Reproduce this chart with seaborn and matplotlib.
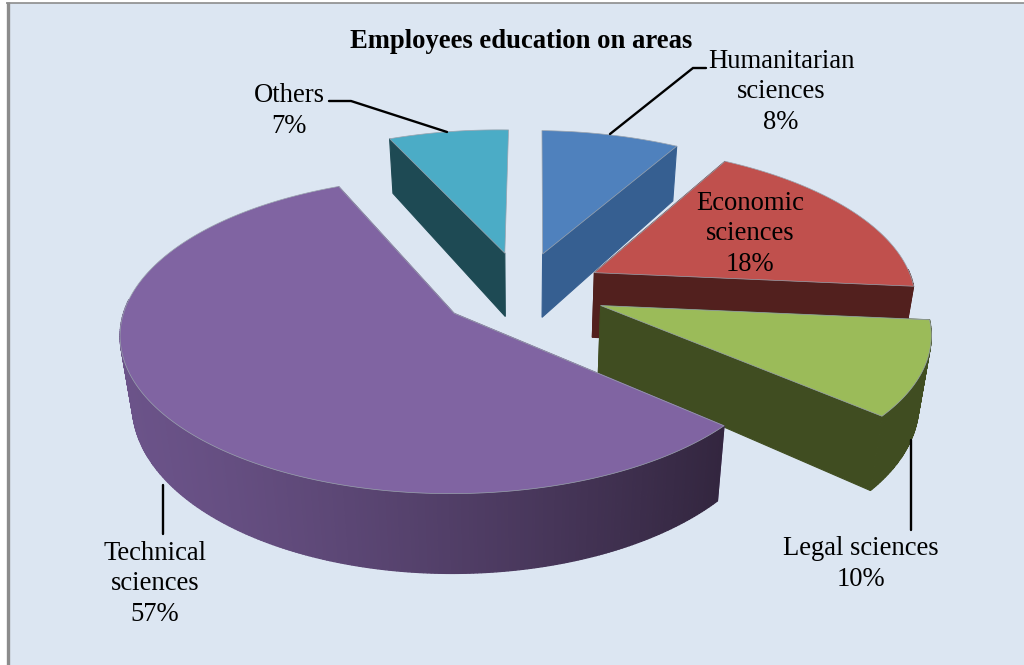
import numpy as np
import matplotlib
matplotlib.use("Agg")
import matplotlib.pyplot as plt
from matplotlib.patches import Rectangle
import seaborn as sns

# Shares of employees by field of education, clockwise from twelve o'clock
categories = ["Humanitarian sciences", "Economic sciences", "Legal sciences",
              "Technical sciences", "Others"]
shares = [8, 18, 10, 57, 7]
chart_title = "Employees education on areas"

top_hex = ["#4F81BD", "#C0504D", "#9BBB59", "#8064A2", "#4BACC6"]
wall_hex = ["#365F91", "#52201E", "#404D21", "#6B5389", "#1E4A54"]
wall_dark_end = "#33263F"

sns.set_theme(style="white")
plt.rcParams["font.family"] = ["Liberation Serif", "DejaVu Serif"]
top_colors = sns.color_palette(top_hex)
wall_colors = sns.color_palette(wall_hex)

BACKGROUND = "#DCE6F2"
FRAME = "#8C8C8C"

# Perspective camera for the exploded disc (pixel-based axes)
CX, CY = 522.0, 290.0
SCALE_X, SCALE_Y, DEPTH = 322.0, 149.0, 68.0
PERSP_V, PERSP_Z = 0.1345, 0.03
DEPTH_TAPER, TILT, SKEW = 0.10, 4.5, 2.0
EXPLODE = 0.26


def project(u, v, z=0.0):
    s = 1.0 / (1.0 + PERSP_V * v + PERSP_Z * z)
    drop = DEPTH * z * (1.0 - DEPTH_TAPER * v)
    return CX + (SCALE_X * u + SKEW * v) * s, CY + (-SCALE_Y * v + TILT * u + drop) * s


fig = plt.figure(figsize=(10.24, 6.65), dpi=100, facecolor="white")
ax = fig.add_axes([0, 0, 1, 1])
ax.set_xlim(0, 1024)
ax.set_ylim(665, 0)
ax.axis("off")

ax.add_patch(Rectangle((7, 3), 1017, 662, facecolor=BACKGROUND, edgecolor="none", zorder=0))
ax.plot([7.5, 7.5], [2, 665], color=FRAME, lw=2.4, zorder=1, solid_capstyle="butt")
ax.plot([6, 1024], [3, 3], color=FRAME, lw=1.2, zorder=1, solid_capstyle="butt")

edges = np.cumsum([0] + shares) / sum(shares) * 2 * np.pi
slices = []
for i in range(len(shares)):
    a0, a1 = edges[i], edges[i + 1]
    mid = (a0 + a1) / 2
    apex = (EXPLODE * np.sin(mid), EXPLODE * np.cos(mid))
    angles = np.linspace(a0, a1, max(8, int(shares[i] * 6)))
    us = apex[0] + np.sin(angles)
    vs = apex[1] + np.cos(angles)
    slices.append((i, apex, angles, us, vs))

# Paint from the far side of the disc to the near side
order = [4, 0, 1, 2, 3]
z = 2
dark = np.array(matplotlib.colors.to_rgb(wall_dark_end))
for i, apex, angles, us, vs in (slices[k] for k in order):
    wall = wall_colors[i]
    ax0, ay0 = project(apex[0], apex[1])
    bx0, by0 = project(apex[0], apex[1], 1)
    # straight cut faces running from the apex to the rim corners;
    # a cut lying along twelve o'clock is seen edge-on and is left out
    for end in (0, -1):
        if abs(np.sin(angles[end])) < 1e-6:
            continue
        tx, ty = project(us[end], vs[end])
        bx, by = project(us[end], vs[end], 1)
        ax.fill([ax0, tx, bx, bx0], [ay0, ty, by, by0], color=wall, lw=0.8, zorder=z)
    # rim wall on the side facing the viewer, shaded along the large slice
    tx, ty = project(us, vs)
    bx, by = project(us, vs, 1)
    x_left, x_right = tx.min(), tx.max()
    for j in range(len(us) - 1):
        if np.cos(angles[j]) > 0.05 and np.cos(angles[j + 1]) > 0.05:
            continue
        colour = wall
        if categories[i].startswith("Technical"):
            t = ((tx[j] - x_left) / (x_right - x_left)) ** 1.3
            colour = tuple((1 - t) * np.array(wall) + t * dark)
        ax.fill([tx[j], tx[j + 1], bx[j + 1], bx[j]], [ty[j], ty[j + 1], by[j + 1], by[j]],
                color=colour, lw=0.9, zorder=z)
    # top face
    ax.fill(np.r_[ax0, tx], np.r_[ay0, ty], facecolor=top_colors[i],
            edgecolor="#9AA3AE", lw=0.5, zorder=z + 0.5, joinstyle="round")
    z += 1

TEXT_SIZE = 19.2
label_style = dict(ha="center", va="center", fontsize=TEXT_SIZE, color="black",
                   linespacing=1.28, zorder=20)


def pct(name):
    return f"{shares[categories.index(name)]}%"


ax.text(521, 41, chart_title, ha="center", va="center", fontsize=19.2,
        fontweight="bold", color="black", zorder=20)
ax.text(781, 92, "Humanitarian\nsciences\n" + pct("Humanitarian sciences"), **label_style)
ax.text(750, 234, "Economic\nsciences\n" + pct("Economic sciences"), **label_style)
ax.text(861, 564, "Legal sciences\n" + pct("Legal sciences"), **label_style)
ax.text(155, 584, "Technical\nsciences\n" + pct("Technical sciences"), **label_style)
ax.text(289, 111, "Others\n" + pct("Others"), **label_style)

# Leader lines tying outer labels to their slices
leaders = [([610, 693, 706], [134, 68, 68]),
           ([329, 351, 447], [101, 101, 132]),
           ([911, 911], [440, 530]),
           ([163, 163], [485, 534])]
for xs, ys in leaders:
    ax.plot(xs, ys, color="black", lw=1.7, zorder=19, solid_joinstyle="miter")

fig.savefig("out.png", dpi=100, facecolor="white")
